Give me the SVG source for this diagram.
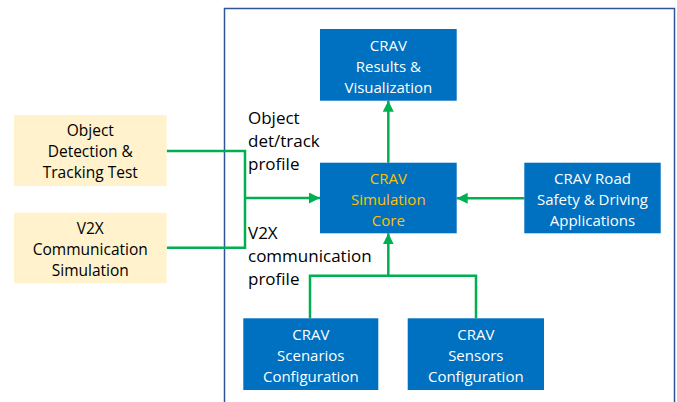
<svg xmlns="http://www.w3.org/2000/svg" width="677" height="402" viewBox="0 0 677 402">
<style>
.blue{fill:#0070C0}
.yel{fill:#FFF2CC}
.wt{fill:#fff;font-family:"Open Sans","Liberation Sans",sans-serif;font-size:15px;text-anchor:middle}
.core{fill:#FFC000}
.bt{fill:#000;font-family:"Open Sans","Liberation Sans",sans-serif;font-size:15.5px;text-anchor:middle}
.lbl{fill:#000;font-family:"Open Sans","Liberation Sans",sans-serif;font-size:17px}
.ln{fill:none;stroke:#00B050;stroke-width:2.5}
</style>
<defs>
<marker id="ah" viewBox="0 0 10 10" refX="10" refY="5" markerWidth="4.4" markerHeight="4.4" orient="auto" markerUnits="strokeWidth">
<path d="M0,0 L10,5 L0,10 z" fill="#00B050"/>
</marker>
</defs>
<rect width="677" height="402" fill="#fff"/>
<rect id="frame" x="224.5" y="8.5" width="450" height="400" fill="none" stroke="#2F5597" stroke-width="1.5"/>
<g id="connectors">
<polyline class="ln" points="166.7,151 245,151 245,247.7 166.7,247.7"/>
<line class="ln" x1="245" y1="198" x2="320" y2="198" marker-end="url(#ah)"/>
<line class="ln" x1="388.3" y1="162.7" x2="388.3" y2="100.7" marker-end="url(#ah)"/>
<line class="ln" x1="524.3" y1="198.3" x2="456.7" y2="198.3" marker-end="url(#ah)"/>
<polyline class="ln" points="310,318.3 310,275.7 476,275.7 476,318.3"/>
<line class="ln" x1="388.3" y1="275.7" x2="388.3" y2="233.3" marker-end="url(#ah)"/>
</g>
<g id="odt">
<rect class="yel" x="14" y="115" width="152.7" height="71"/>
<text class="bt" x="90.3" y="135.5">Object</text>
<text class="bt" x="90.3" y="156.5">Detection &amp;</text>
<text class="bt" x="90.3" y="177.5">Tracking Test</text>
</g>
<g id="v2x">
<rect class="yel" x="14" y="212.7" width="152.7" height="70.6"/>
<text class="bt" x="90.3" y="233.5">V2X</text>
<text class="bt" x="90.3" y="254.5">Communication</text>
<text class="bt" x="90.3" y="275.5">Simulation</text>
</g>
<g id="results">
<rect class="blue" x="320" y="29" width="136.7" height="71.7"/>
<text class="wt" x="388.3" y="50.5">CRAV</text>
<text class="wt" x="388.3" y="71.5">Results &amp;</text>
<text class="wt" x="388.3" y="92.5">Visualization</text>
</g>
<g id="core">
<rect class="blue" x="320" y="162.7" width="136.7" height="70.6"/>
<text class="wt core" x="388.3" y="183.5">CRAV</text>
<text class="wt core" x="388.3" y="204.5">Simulation</text>
<text class="wt core" x="388.3" y="225.5">Core</text>
</g>
<g id="road">
<rect class="blue" x="524.3" y="162.7" width="136.4" height="70.6"/>
<text class="wt" x="592.5" y="183.5">CRAV Road</text>
<text class="wt" x="592.5" y="204.5">Safety &amp; Driving</text>
<text class="wt" x="592.5" y="225.5">Applications</text>
</g>
<g id="scenarios">
<rect class="blue" x="243.3" y="318.3" width="135" height="71.7"/>
<text class="wt" x="310.8" y="339.5">CRAV</text>
<text class="wt" x="310.8" y="360.5">Scenarios</text>
<text class="wt" x="310.8" y="381.5">Configuration</text>
</g>
<g id="sensors">
<rect class="blue" x="407.7" y="318.3" width="136.3" height="71.7"/>
<text class="wt" x="475.8" y="339.5">CRAV</text>
<text class="wt" x="475.8" y="360.5">Sensors</text>
<text class="wt" x="475.8" y="381.5">Configuration</text>
</g>
<g id="labels">
<text class="lbl" x="248" y="124">Object</text>
<text class="lbl" x="248" y="147">det/track</text>
<text class="lbl" x="248" y="170">profile</text>
<text class="lbl" x="248" y="239">V2X</text>
<text class="lbl" x="248" y="262">communication</text>
<text class="lbl" x="248" y="285">profile</text>
</g>
</svg>
